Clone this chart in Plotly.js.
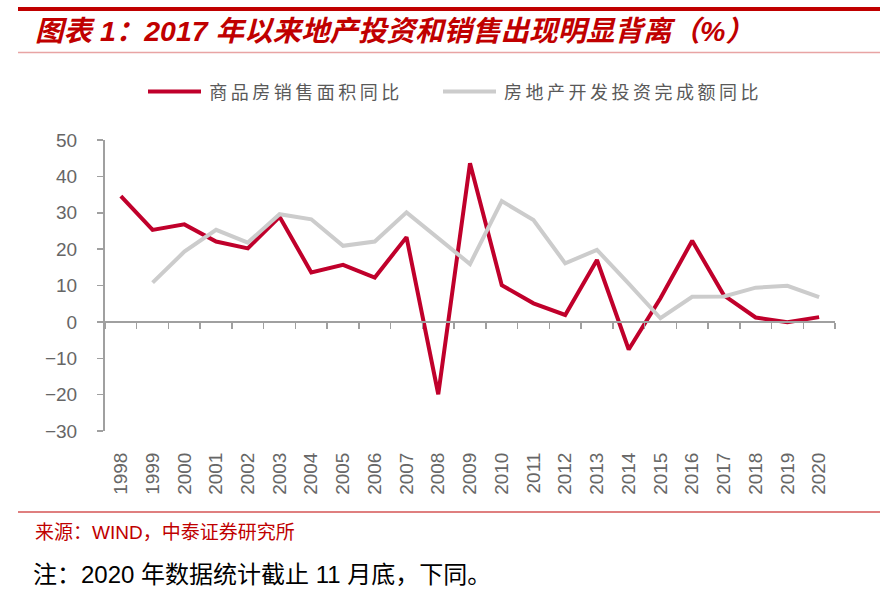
<!DOCTYPE html>
<html>
<head>
<meta charset="utf-8">
<script src="https://cdn.plot.ly/plotly-3.0.1.min.js"></script>
<style>
html,body{margin:0;padding:0;background:#fff;}
#chart{width:887px;height:596px;}
</style>
</head>
<body>
<div id="chart"></div>
<script>
// ---- data ----
var years = [1998,1999,2000,2001,2002,2003,2004,2005,2006,2007,2008,2009,2010,2011,2012,2013,2014,2015,2016,2017,2018,2019,2020];
var yearLabels = ['1998','1999','2000','2001','2002','2003','2004','2005','2006','2007','2008','2009','2010','2011','2012','2013','2014','2015','2016','2017','2018','2019','2020'];
var salesArea = [34.6,25.3,26.8,22.1,20.2,28.9,13.6,15.7,12.2,23.3,-19.9,43.6,10.1,5.1,1.9,17.0,-7.6,6.5,22.3,7.3,1.2,-0.1,1.3];
var investment = [null,10.8,19.3,25.3,21.8,29.6,28.2,20.9,22.1,30.1,23.1,15.9,33.2,28.0,16.1,19.8,10.5,1.0,6.9,7.0,9.4,9.9,6.8];
var seriesNames = ['商品房销售面积同比','房地产开发投资完成额同比'];
var titleText = '图表 1：2017 年以来地产投资和销售出现明显背离（%）';
var sourceText = '来源：WIND，中泰证券研究所';
var noteText = '注：2020 年数据统计截止 11 月底，下同。';

// ---- layout helpers (pixel -> paper) ----
var L = 105, R = 835, T = 140, B = 431;
function px(x){ return (x - L) / (R - L); }
function py(y){ return (B - y) / (B - T); }

var RED = '#C0002B', GRAY = '#CCCCCC', AX = '#A0A0A0', TXT = '#666666';

var boundaries = [];
for (var i = 0; i <= years.length; i++) boundaries.push(years[0] - 0.5 + i);

var traces = [
  {x: years, y: salesArea, name: seriesNames[0], mode: 'lines', line: {color: RED, width: 4}, hoverinfo: 'x+y'},
  {x: years, y: investment, name: seriesNames[1], mode: 'lines', line: {color: GRAY, width: 4}, hoverinfo: 'x+y'},
  {x: [years[0]], y: [null], xaxis: 'x2', showlegend: false, hoverinfo: 'skip', mode: 'lines'}
];

var layout = {
  width: 887, height: 596, autosize: false,
  margin: {l: L, r: 887 - R, t: T, b: 596 - B, pad: 0},
  paper_bgcolor: '#fff', plot_bgcolor: 'rgba(0,0,0,0)',
  showlegend: false,
  font: {family: 'Liberation Sans, Arial, Noto Sans CJK SC', color: TXT},
  xaxis: {
    range: [years[0] - 0.5, years[years.length - 1] + 0.5],
    tickmode: 'array', tickvals: years, ticktext: yearLabels,
    tickangle: -90, showline: false, showgrid: false, zeroline: false,
    ticks: 'outside', ticklen: 13, tickcolor: 'rgba(0,0,0,0)',
    tickfont: {size: 19, color: TXT, family: 'Liberation Sans, Arial'}
  },
  xaxis2: {
    overlaying: 'x', anchor: 'free', position: py(322),
    range: [years[0] - 0.5, years[years.length - 1] + 0.5],
    tickmode: 'array', tickvals: boundaries, showticklabels: false,
    ticks: 'outside', ticklen: 6, tickwidth: 1.5, tickcolor: AX,
    showline: true, linecolor: AX, linewidth: 2, showgrid: false, zeroline: false
  },
  yaxis: {
    range: [-30, 50], tick0: 0, dtick: 10,
    showline: true, linecolor: AX, linewidth: 2,
    ticks: 'outside', ticklen: 6, tickwidth: 1.5, tickcolor: AX,
    ticklabelstandoff: 16,
    showgrid: false, zeroline: false,
    tickfont: {size: 19, color: TXT, family: 'Liberation Sans, Arial'}
  },
  shapes: [
    {type: 'line', xref: 'paper', yref: 'paper', x0: px(18), x1: px(880), y0: py(9), y1: py(9), line: {color: '#C00000', width: 4}},
    {type: 'line', xref: 'paper', yref: 'paper', x0: px(18), x1: px(880), y0: py(52.5), y1: py(52.5), line: {color: '#E8A4A4', width: 1.5}},
    {type: 'line', xref: 'paper', yref: 'paper', x0: px(18), x1: px(880), y0: py(512), y1: py(512), line: {color: '#C00000', width: 1.2}},
    {type: 'line', xref: 'paper', yref: 'paper', x0: px(148), x1: px(201), y0: py(91.5), y1: py(91.5), line: {color: RED, width: 4}},
    {type: 'line', xref: 'paper', yref: 'paper', x0: px(443), x1: px(496), y0: py(91.5), y1: py(91.5), line: {color: GRAY, width: 4}}
  ],
  annotations: [
    {xref: 'paper', yref: 'paper', x: px(33), y: py(31), xanchor: 'left', yanchor: 'middle', showarrow: false,
     text: '<b><i>' + titleText + '</i></b>', font: {size: 28.5, color: '#C00000', family: 'Liberation Sans, Noto Sans CJK SC'}},
    {xref: 'paper', yref: 'paper', x: px(223), y: py(91), xanchor: 'left', yanchor: 'middle', showarrow: false,
     text: seriesNames[0], font: {size: 18, color: '#595959', family: 'Noto Sans CJK SC'}},
    {xref: 'paper', yref: 'paper', x: px(523), y: py(91), xanchor: 'left', yanchor: 'middle', showarrow: false,
     text: seriesNames[1], font: {size: 18, color: '#595959', family: 'Noto Sans CJK SC'}},
    {xref: 'paper', yref: 'paper', x: px(33), y: py(532), xanchor: 'left', yanchor: 'middle', showarrow: false,
     text: sourceText, font: {size: 19, color: '#C00000', family: 'Liberation Sans Narrow, Liberation Sans, Noto Sans CJK SC'}},
    {xref: 'paper', yref: 'paper', x: px(31), y: py(574), xanchor: 'left', yanchor: 'middle', showarrow: false,
     text: noteText, font: {size: 24, color: '#000000', family: 'Liberation Sans, Noto Sans CJK SC'}}
  ]
};

Plotly.newPlot('chart', traces, layout, {staticPlot: true, displayModeBar: false}).then(function(){
  document.querySelectorAll('.annotation-text').forEach(function(t){
    if (t.textContent === seriesNames[0] || t.textContent === seriesNames[1]) {
      t.style.letterSpacing = '3.5px';
    }
  });
});
</script>
</body>
</html>
